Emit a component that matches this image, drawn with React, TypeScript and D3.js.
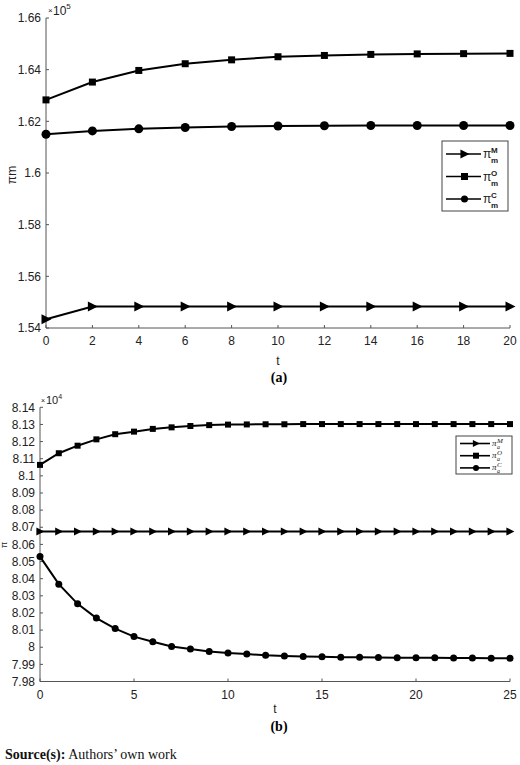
import React from 'react';
import * as d3 from 'd3';

// panel (a): values in units of 1e5
const tA = [0, 2, 4, 6, 8, 10, 12, 14, 16, 18, 20];
const piM_a = [1.5434, 1.5483, 1.5483, 1.5483, 1.5483, 1.5483, 1.5483, 1.5483, 1.5483, 1.5483, 1.5483];
const piO_a = [1.6283, 1.6352, 1.6397, 1.6423, 1.6438, 1.645, 1.6455, 1.6459, 1.6461, 1.6462, 1.6463];
const piC_a = [1.615, 1.6163, 1.6171, 1.6176, 1.618, 1.6182, 1.6183, 1.6184, 1.6184, 1.6184, 1.6184];
const yTicksA = [1.54, 1.56, 1.58, 1.6, 1.62, 1.64, 1.66];
const xTicksA = [0, 2, 4, 6, 8, 10, 12, 14, 16, 18, 20];

// panel (b): values in units of 1e4
const tB = d3.range(0, 26);
const piM_b = [8.0675, 8.0675, 8.0675, 8.0675, 8.0675, 8.0675, 8.0675, 8.0675, 8.0675, 8.0675, 8.0675, 8.0675, 8.0675,
  8.0675, 8.0675, 8.0675, 8.0675, 8.0675, 8.0675, 8.0675, 8.0675, 8.0675, 8.0675, 8.0675, 8.0675, 8.0675];
const piO_b = [8.1064, 8.1132, 8.1176, 8.1213, 8.1243, 8.1258, 8.1274, 8.1283, 8.1291, 8.1296, 8.1299, 8.13, 8.1301,
  8.1301, 8.1302, 8.1302, 8.1302, 8.1302, 8.1302, 8.1302, 8.1302, 8.1302, 8.1302, 8.1302, 8.1302, 8.1302];
const piC_b = [8.0529, 8.0368, 8.0253, 8.017, 8.0109, 8.0062, 8.0032, 8.0004, 7.9989, 7.9975, 7.9966, 7.996, 7.9953,
  7.9949, 7.9946, 7.9944, 7.9942, 7.9941, 7.994, 7.9939, 7.9938, 7.9938, 7.9937, 7.9937, 7.9936, 7.9936];
const yTicksB = [7.98, 7.99, 8, 8.01, 8.02, 8.03, 8.04, 8.05, 8.06, 8.07, 8.08, 8.09, 8.1, 8.11, 8.12, 8.13, 8.14];
const xTicksB = [0, 5, 10, 15, 20, 25];

type Marker = 'tri' | 'sq' | 'circ';
const fmt = (v: number) => String(+v.toFixed(2));
const FONT = 'Liberation Sans, Arial, sans-serif';
const AX = '#555';

function markerPath(kind: Marker, s: number) {
  if (kind === 'tri') return `M${-s * 0.45},${-s * 0.5}L${s * 0.55},0L${-s * 0.45},${s * 0.5}Z`;
  if (kind === 'sq') return `M${-s / 2},${-s / 2}h${s}v${s}h${-s}Z`;
  return d3.symbol(d3.symbolCircle, (s * s * Math.PI) / 4)()!;
}

interface PanelProps {
  xs: number[];
  series: { vals: number[]; kind: Marker }[];
  xDomain: [number, number];
  yDomain: [number, number];
  xRange: [number, number];
  yRange: [number, number];
  xTicks: number[];
  yTicks: number[];
  sizes: Record<Marker, number>;
}

const Panel: React.FC<PanelProps> = ({ xs, series, xDomain, yDomain, xRange, yRange, xTicks, yTicks, sizes }) => {
  const x = d3.scaleLinear().domain(xDomain).range(xRange);
  const y = d3.scaleLinear().domain(yDomain).range(yRange);
  const line = d3.line<number>().x((_, i) => x(xs[i])).y(v => y(v));
  const [x0, x1] = xRange;
  const [yb, yt] = yRange;
  return (
    <g>
      <line x1={x0} x2={x0} y1={yb} y2={yt} stroke={AX} strokeWidth={1} />
      <line x1={x0} x2={x1} y1={yb} y2={yb} stroke={AX} strokeWidth={1} />
      {yTicks.map(v => (
        <g key={'y' + v}>
          <line x1={x0} x2={x0 + 3} y1={y(v)} y2={y(v)} stroke={AX} />
          <text x={x0 - 5} y={y(v)} dy="0.35em" textAnchor="end" fontSize={12} fill="#222" fontFamily={FONT}>{fmt(v)}</text>
        </g>
      ))}
      {xTicks.map(v => (
        <g key={'x' + v}>
          <line x1={x(v)} x2={x(v)} y1={yb} y2={yb - 3} stroke={AX} />
          <text x={x(v)} y={yb + 17} textAnchor="middle" fontSize={12} fill="#222" fontFamily={FONT}>{v}</text>
        </g>
      ))}
      {series.map((s, k) => (
        <g key={k}>
          <path d={line(s.vals)!} fill="none" stroke="#000" strokeWidth={2} />
          {s.vals.map((v, i) => (
            <path key={i} d={markerPath(s.kind, sizes[s.kind])} transform={`translate(${x(xs[i])},${y(v)})`} fill="#000" />
          ))}
        </g>
      ))}
    </g>
  );
};

const PiLabel: React.FC<{ x: number; y: number; sup: string; sub: string; serif?: boolean }> = ({ x, y, sup, sub, serif }) => (
  serif ? (
    <text x={x} y={y} fontSize={9} fontStyle="italic" fontFamily="Liberation Serif, serif" fill="#222">
      π
      <tspan x={x + 5} dy={-3} fontSize={7}>{sup}</tspan>
      <tspan x={x + 5} dy={6} fontSize={6}>{sub}</tspan>
    </text>
  ) : (
    <text x={x} y={y} fontSize={12} fontFamily={FONT} fill="#222">
      π
      <tspan x={x + 8} dy={-5} fontSize={8} fontWeight="bold">{sup}</tspan>
      <tspan x={x + 8} dy={10} fontSize={8} fontWeight="bold">{sub}</tspan>
    </text>
  )
);

const LegendRow: React.FC<{ x0: number; x1: number; y: number; kind: Marker; size: number }> = ({ x0, x1, y, kind, size }) => (
  <g>
    <line x1={x0} x2={x1} y1={y} y2={y} stroke="#000" strokeWidth={1.6} />
    <path d={markerPath(kind, size)} transform={`translate(${(x0 + x1) / 2 + 1},${y})`} fill="#000" />
  </g>
);

export default function App() {
  const legA: [Marker, string][] = [['tri', 'M'], ['sq', 'O'], ['circ', 'C']];
  return (
    <svg width={520} height={765} style={{ position: 'absolute', left: 0, top: 0, background: '#fff' }}>
      {/* panel (a) */}
      <Panel
        xs={tA}
        series={[{ vals: piO_a, kind: 'sq' }, { vals: piC_a, kind: 'circ' }, { vals: piM_a, kind: 'tri' }]}
        xDomain={[0, 20]} yDomain={[1.54, 1.66]} xRange={[46, 510]} yRange={[328, 18]}
        xTicks={xTicksA} yTicks={yTicksA}
        sizes={{ tri: 10, sq: 7, circ: 9 }}
      />
      <text x={48} y={13} fontSize={8} fontFamily={FONT} fill="#222">×</text>
      <text x={53} y={15} fontSize={12} fontFamily={FONT} fill="#222">10<tspan dy={-6} fontSize={8}>5</tspan></text>
      <text transform="translate(16,175) rotate(-90)" textAnchor="middle" fontSize={12} fontFamily={FONT} fill="#222">πm</text>
      <text x={278} y={365} textAnchor="middle" fontSize={12} fontFamily={FONT} fill="#222">t</text>
      <text x={279} y={382} textAnchor="middle" fontSize={14} fontWeight="bold" fontFamily="Liberation Serif, serif">(a)</text>
      <rect x={442} y={141} width={66} height={70} fill="#fff" stroke="#444" strokeWidth={1} />
      {legA.map(([k, s], i) => (
        <g key={k}>
          <LegendRow x0={446} x1={481} y={154 + i * 22.5} kind={k} size={k === 'tri' ? 9 : 7} />
          <PiLabel x={483} y={158 + i * 22.5} sup={s} sub="m" />
        </g>
      ))}

      {/* panel (b) */}
      <Panel
        xs={tB}
        series={[{ vals: piO_b, kind: 'sq' }, { vals: piM_b, kind: 'tri' }, { vals: piC_b, kind: 'circ' }]}
        xDomain={[0, 25]} yDomain={[7.98, 8.14]} xRange={[40, 510]} yRange={[681.5, 407.3]}
        xTicks={xTicksB} yTicks={yTicksB}
        sizes={{ tri: 8, sq: 6, circ: 7 }}
      />
      <text x={41} y={403} fontSize={7} fontFamily={FONT} fill="#222">×</text>
      <text x={46} y={404} fontSize={11} fontFamily={FONT} fill="#222">10<tspan dy={-5} fontSize={7}>4</tspan></text>
      <text transform="translate(7,545) rotate(-90)" textAnchor="middle" fontSize={9} fontFamily={FONT} fill="#222">π</text>
      <text x={275} y={713} textAnchor="middle" fontSize={12} fontFamily={FONT} fill="#222">t</text>
      <text x={279} y={731} textAnchor="middle" fontSize={14} fontWeight="bold" fontFamily="Liberation Serif, serif">(b)</text>
      <rect x={456} y={436} width={56} height={38} fill="#fff" stroke="#444" strokeWidth={1} />
      {legA.map(([k, s], i) => (
        <g key={'b' + k}>
          <LegendRow x0={460} x1={490} y={443.5 + i * 12.2} kind={k} size={k === 'tri' ? 7 : 6} />
          <PiLabel x={492} y={446 + i * 12.2} sup={s} sub="a" serif />
        </g>
      ))}

      <text x={5} y={759} fontSize={14} fontFamily="Liberation Serif, serif" fill="#111">
        <tspan fontWeight="bold">Source(s):</tspan> Authors’ own work
      </text>
    </svg>
  );
}
